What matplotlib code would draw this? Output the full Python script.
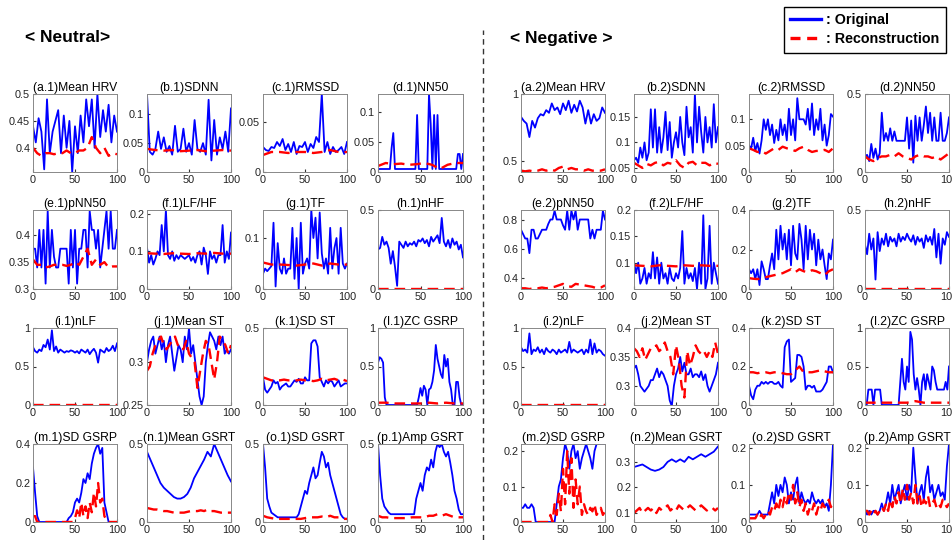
import numpy as np
import matplotlib
matplotlib.use("Agg")
import matplotlib.pyplot as plt
from matplotlib.lines import Line2D
from matplotlib.ticker import FuncFormatter

plt.rcParams['font.family'] = ['Liberation Sans', 'DejaVu Sans']

# ---- data (sample index 0..100) ----
# Neutral
a1_orig = [0.44,0.41,0.455,0.43,0.36,0.49,0.39,0.43,0.45,0.47,0.39,0.46,0.40,0.45,0.355,0.44,0.39,0.46,0.41,0.49,0.44,0.49,0.40,0.50,0.42,0.47,0.43,0.48,0.41,0.46,0.43]
a1_rec = [0.40,0.39,0.385,0.39,0.39,0.388,0.39,0.39,0.395,0.39,0.39,0.395,0.395,0.40,0.42,0.40,0.39,0.40,0.385,0.39,0.388]
b1_orig = [0.135,0.035,0.03,0.04,0.07,0.04,0.06,0.035,0.045,0.03,0.08,0.035,0.04,0.075,0.035,0.05,0.03,0.09,0.04,0.035,0.05,0.03,0.125,0.02,0.09,0.03,0.06,0.04,0.07,0.035,0.11]
b1_rec = [0.04,0.038,0.037,0.038,0.036,0.037,0.038,0.036,0.037,0.038,0.037]
c1_orig = [0.025,0.022,0.021,0.025,0.024,0.03,0.026,0.033,0.022,0.028,0.02,0.03,0.018,0.026,0.025,0.03,0.02,0.028,0.024,0.035,0.03,0.078,0.02,0.03,0.018,0.025,0.02,0.022,0.025,0.018,0.03]
c1_rec = [0.017,0.02,0.02,0.019,0.02,0.02,0.019,0.02,0.022,0.02,0.02]
d1_orig = [0.005,0.005,0.005,0.005,0.005,0.005,0.005,0.005,0.04,0.065,0.005,0.005,0.005,0.005,0.005,0.005,0.005,0.005,0.005,0.005,0.005,0.005,0.005,0.095,0.005,0.005,0.005,0.005,0.005,0.005,0.13,0.08,0.005,0.095,0.005,0.095,0.005,0.005,0.005,0.005,0.005,0.005,0.005,0.005,0.005,0.005,0.005,0.03,0.03,0.005,0.03]
d1_rec = [0.01,0.015,0.013,0.014,0.012,0.013,0.015,0.012,0.005,0.012,0.015,0.015]
e1_orig = [0.375,0.375,0.34,0.41,0.34,0.41,0.31,0.445,0.34,0.41,0.36,0.34,0.34,0.375,0.375,0.375,0.375,0.31,0.41,0.34,0.41,0.31,0.375,0.375,0.41,0.41,0.34,0.445,0.41,0.41,0.375,0.41,0.34,0.375,0.41,0.445,0.375,0.445,0.375,0.375,0.41]
e1_rec = [0.355,0.345,0.345,0.34,0.342,0.345,0.345,0.345,0.343,0.345,0.35,0.345,0.36,0.375,0.345,0.355,0.345,0.35,0.34,0.342,0.342]
f1_orig = [0.11,0.07,0.09,0.065,0.08,0.1,0.09,0.17,0.1,0.21,0.09,0.08,0.1,0.075,0.09,0.08,0.09,0.085,0.08,0.085,0.09,0.075,0.085,0.07,0.09,0.1,0.065,0.11,0.09,0.04,0.1,0.08,0.09,0.07,0.09,0.09,0.17,0.07,0.1,0.08,0.15]
f1_rec = [0.095,0.094,0.093,0.095,0.094,0.093,0.095,0.094,0.096,0.094,0.094]
g1_orig = [0.03,0.04,0.035,0.04,0.045,0.13,0.005,0.09,0.04,0.03,0.06,0.03,0.04,0.04,0.12,0.02,0.1,0.0,0.13,0.03,0.05,0.06,0.04,0.155,0.1,0.14,0.06,0.15,0.07,0.04,0.06,0.03,0.12,0.04,0.08,0.1,0.03,0.12,0.05,0.04,0.05]
g1_rec = [0.052,0.048,0.048,0.047,0.046,0.048,0.05,0.046,0.05,0.048,0.048]
h1_orig = [0.25,0.26,0.33,0.28,0.3,0.26,0.16,0.24,0.14,0.02,0.3,0.28,0.26,0.3,0.27,0.29,0.28,0.3,0.27,0.31,0.3,0.32,0.29,0.31,0.27,0.33,0.3,0.32,0.34,0.29,0.45,0.3,0.27,0.31,0.26,0.32,0.28,0.3,0.25,0.28,0.2]
h1_rec = [0.002,0.002,0.002,0.002,0.002]
i1_orig = [0.75,0.7,0.68,0.72,0.7,0.78,0.75,0.85,0.72,0.97,0.7,0.76,0.68,0.72,0.7,0.68,0.7,0.69,0.71,0.7,0.68,0.7,0.67,0.72,0.7,0.68,0.72,0.66,0.7,0.73,0.68,0.55,0.72,0.7,0.68,0.74,0.7,0.72,0.77,0.7,0.8]
i1_rec = [0.004,0.004,0.004,0.004,0.004]
j1_orig = [0.3,0.315,0.325,0.33,0.31,0.32,0.33,0.315,0.325,0.3,0.32,0.33,0.31,0.29,0.305,0.32,0.315,0.3,0.33,0.315,0.34,0.31,0.32,0.3,0.28,0.26,0.25,0.26,0.3,0.32,0.335,0.33,0.325,0.315,0.33,0.32,0.33,0.31,0.315,0.31,0.315]
j1_rec = [0.29,0.295,0.31,0.32,0.325,0.33,0.32,0.315,0.32,0.325,0.33,0.32,0.32,0.315,0.325,0.31,0.305,0.3,0.27,0.29,0.31,0.325,0.32,0.3,0.28,0.3,0.33,0.325,0.32,0.31,0.32]
k1_orig = [0.18,0.1,0.08,0.1,0.12,0.16,0.14,0.15,0.1,0.12,0.13,0.14,0.12,0.12,0.14,0.16,0.15,0.17,0.14,0.14,0.18,0.16,0.16,0.4,0.42,0.42,0.38,0.18,0.15,0.12,0.16,0.14,0.16,0.15,0.12,0.14,0.16,0.12,0.13,0.14,0.14]
k1_rec = [0.18,0.17,0.16,0.16,0.16,0.165,0.16,0.16,0.16,0.165,0.16,0.16,0.155,0.16,0.17,0.16,0.165,0.17,0.16,0.165,0.155]
l1_orig = [0.55,0.62,0.6,0.55,0.1,0,0,0,0,0,0,0,0,0,0,0,0,0,0,0,0,0,0,0,0.1,0.22,0.12,0.25,0.2,0,0.2,0.22,0.3,0.45,0.78,0.6,0.5,0.4,0.35,0.65,0.5,0.6,0.3,0.2,0,0,0.3,0.3,0.1,0,0]
l1_rec = [0.03,0.03,0.02,0.02,0.02,0.02,0.03,0.02,0.03,0.02,0.02]
m1_orig = [0.28,0.15,0.03,0.0,0.0,0.0,0.0,0.0,0.0,0.0,0.0,0.0,0.0,0.0,0.0,0.0,0.0,0.02,0.03,0.05,0.1,0.12,0.1,0.15,0.22,0.2,0.25,0.22,0.3,0.35,0.38,0.4,0.35,0.38,0.1,0.05,0.0,0.0,0.0,0.0,0.0]
m1_rec = [0.03,0.03,0.0,0.0,0.0,0.0,0.0,0.0,0.0,0.0,0.0,0.0,0.0,0.0,0.0,0.0,0.0,0.0,0.0,0.0,0.02,0.06,0.02,0.1,0.03,0.08,0.02,0.1,0.05,0.15,0.08,0.2,0.1,0.12,0.03,0.01,0.0,0.0,0.0,0.0,0.0]
n1_orig = [0.45,0.4,0.35,0.3,0.25,0.22,0.2,0.18,0.16,0.15,0.15,0.16,0.18,0.22,0.28,0.32,0.36,0.4,0.45,0.42,0.5,0.45,0.4,0.35,0.3,0.26]
n1_rec = [0.09,0.085,0.08,0.08,0.075,0.07,0.07,0.065,0.06,0.06,0.06,0.06,0.065,0.07,0.07,0.07,0.075,0.07,0.08,0.07,0.07,0.065,0.06,0.06,0.06,0.06]
o1_orig = [0.5,0.35,0.15,0.1,0.06,0.05,0.04,0.03,0.03,0.03,0.03,0.03,0.03,0.03,0.03,0.03,0.03,0.05,0.1,0.15,0.2,0.18,0.25,0.3,0.35,0.28,0.3,0.38,0.45,0.42,0.35,0.38,0.3,0.25,0.2,0.15,0.1,0.05,0.03,0.02,0.02]
o1_rec = [0.04,0.03,0.025,0.02,0.02,0.02,0.02,0.02,0.02,0.02,0.025,0.03,0.03,0.03,0.035,0.03,0.04,0.03,0.03,0.02,0.02]
p1_orig = [0.5,0.3,0.15,0.1,0.08,0.06,0.05,0.05,0.05,0.05,0.05,0.05,0.05,0.05,0.05,0.05,0.05,0.05,0.15,0.2,0.25,0.2,0.3,0.35,0.33,0.4,0.35,0.45,0.5,0.48,0.5,0.45,0.42,0.45,0.38,0.3,0.2,0.15,0.08,0.05,0.05]
p1_rec = [0.04,0.03,0.03,0.025,0.025,0.025,0.025,0.025,0.03,0.03,0.03,0.03,0.04,0.04,0.05,0.04,0.05,0.04,0.03,0.03,0.03]

# Negative
a2_orig = [0.83,0.8,0.78,0.68,0.8,0.75,0.82,0.85,0.84,0.88,0.86,0.93,0.88,0.9,0.85,0.93,0.88,0.95,0.86,0.92,0.87,0.95,0.9,0.78,0.88,0.78,0.85,0.8,0.82,0.9,0.86]
a2_rec = [0.43,0.425,0.43,0.425,0.43,0.44,0.43,0.44,0.43,0.45,0.46,0.44,0.45,0.44,0.44,0.43,0.44,0.43,0.43,0.43,0.44]
b2_orig = [0.065,0.07,0.06,0.09,0.07,0.1,0.065,0.08,0.165,0.09,0.165,0.08,0.13,0.08,0.11,0.16,0.085,0.14,0.07,0.1,0.12,0.09,0.15,0.1,0.075,0.17,0.11,0.13,0.08,0.195,0.1,0.17,0.12,0.08,0.15,0.1,0.13,0.09,0.175,0.1,0.13]
b2_rec = [0.06,0.055,0.05,0.058,0.055,0.06,0.062,0.055,0.06,0.058,0.065,0.055,0.05,0.06,0.062,0.055,0.06,0.06,0.055,0.06,0.058]
c2_orig = [0.05,0.045,0.065,0.04,0.055,0.035,0.06,0.1,0.08,0.1,0.07,0.09,0.055,0.08,0.06,0.1,0.07,0.09,0.06,0.12,0.07,0.1,0.06,0.14,0.1,0.1,0.1,0.09,0.12,0.08,0.13,0.07,0.1,0.08,0.12,0.06,0.09,0.05,0.07,0.11,0.105]
c2_rec = [0.045,0.042,0.038,0.04,0.035,0.04,0.045,0.042,0.048,0.045,0.043,0.04,0.045,0.048,0.042,0.038,0.04,0.04,0.042,0.038,0.045]
d2_orig = [0.1,0.11,0.07,0.18,0.09,0.15,0.08,0.12,0.38,0.2,0.25,0.2,0.28,0.2,0.26,0.2,0.2,0.2,0.2,0.2,0.35,0.15,0.33,0.06,0.36,0.2,0.35,0.2,0.3,0.42,0.25,0.38,0.2,0.35,0.2,0.2,0.38,0.2,0.2,0.25,0.35]
d2_rec = [0.1,0.08,0.07,0.09,0.1,0.1,0.11,0.1,0.12,0.1,0.09,0.08,0.1,0.11,0.1,0.1,0.09,0.1,0.08,0.1,0.12]
e2_orig = [0.73,0.7,0.67,0.67,0.57,0.73,0.73,0.67,0.67,0.7,0.73,0.73,0.73,0.77,0.8,0.8,0.86,0.8,0.8,0.8,0.76,0.73,0.86,0.73,0.86,0.8,0.86,0.73,0.8,0.8,0.8,0.8,0.8,0.67,0.73,0.67,0.73,0.73,0.73,0.86,0.8]
e2_rec = [0.33,0.33,0.325,0.33,0.33,0.335,0.33,0.335,0.34,0.35,0.36,0.345,0.34,0.36,0.355,0.35,0.345,0.34,0.33,0.335,0.35]
f2_orig = [0.1,0.08,0.1,0.06,0.07,0.09,0.06,0.08,0.07,0.12,0.07,0.11,0.06,0.1,0.07,0.08,0.06,0.09,0.07,0.065,0.08,0.07,0.09,0.16,0.06,0.09,0.07,0.08,0.065,0.09,0.05,0.1,0.06,0.19,0.05,0.07,0.17,0.06,0.1,0.08,0.06]
f2_rec = [0.095,0.094,0.093,0.095,0.094,0.093,0.095,0.094,0.095,0.094,0.094]
g2_orig = [0.1,0.08,0.1,0.05,0.1,0.02,0.14,0.1,0.05,0.05,0.12,0.18,0.1,0.3,0.15,0.32,0.2,0.28,0.15,0.3,0.12,0.32,0.18,0.15,0.33,0.25,0.1,0.32,0.15,0.3,0.2,0.28,0.12,0.25,0.15,0.2,0.12,0.05,0.18,0.15,0.25]
g2_rec = [0.055,0.052,0.05,0.055,0.06,0.065,0.07,0.075,0.08,0.09,0.1,0.085,0.1,0.09,0.085,0.095,0.09,0.08,0.07,0.09,0.1]
h2_orig = [0.28,0.22,0.35,0.25,0.32,0.06,0.36,0.24,0.32,0.28,0.35,0.27,0.33,0.3,0.32,0.27,0.35,0.3,0.33,0.31,0.35,0.32,0.3,0.34,0.28,0.33,0.3,0.32,0.26,0.34,0.3,0.33,0.28,0.38,0.2,0.35,0.16,0.32,0.28,0.36,0.33]
h2_rec = [0.002,0.002,0.002,0.002,0.002]
i2_orig = [0.75,0.7,0.72,0.68,0.93,0.66,0.72,0.7,0.75,0.68,0.72,0.66,0.74,0.7,0.68,0.72,0.7,0.66,0.72,0.68,0.7,0.72,0.68,0.82,0.68,0.72,0.7,0.68,0.7,0.72,0.66,0.72,0.68,0.85,0.66,0.8,0.68,0.72,0.7,0.66,0.64]
i2_rec = [0.004,0.004,0.004,0.004,0.004]
j2_orig = [0.33,0.335,0.32,0.3,0.295,0.29,0.295,0.3,0.31,0.31,0.32,0.33,0.315,0.325,0.32,0.31,0.3,0.275,0.265,0.3,0.32,0.33,0.35,0.325,0.34,0.32,0.32,0.33,0.315,0.32,0.32,0.315,0.325,0.31,0.32,0.3,0.29,0.3,0.31,0.32,0.34]
j2_rec = [0.365,0.36,0.35,0.365,0.345,0.355,0.365,0.365,0.37,0.36,0.365,0.375,0.36,0.35,0.32,0.37,0.345,0.3,0.28,0.36,0.335,0.35,0.37,0.36,0.355,0.36,0.35,0.36,0.35,0.375,0.355]
k2_orig = [0.1,0.05,0.03,0.08,0.1,0.1,0.12,0.11,0.12,0.11,0.12,0.12,0.11,0.11,0.12,0.1,0.09,0.3,0.33,0.34,0.12,0.13,0.14,0.26,0.26,0.25,0.2,0.08,0.1,0.1,0.09,0.1,0.07,0.07,0.07,0.08,0.1,0.12,0.2,0.2,0.17]
k2_rec = [0.17,0.17,0.165,0.17,0.17,0.165,0.17,0.17,0.165,0.16,0.16,0.18,0.2,0.17,0.17,0.17,0.175,0.18,0.175,0.17,0.17]
l2_orig = [0,0,0.2,0.2,0.2,0,0.2,0.2,0.2,0.2,0,0,0,0,0,0,0,0,0,0,0,0.3,0.6,0.3,0.2,0.5,0.3,0.95,0.85,0.4,0.2,0.35,0.2,0,0.3,0.4,0.2,0.4,0.3,0.2,0.5,0.45,0.3,0.2,0.2,0.2,0.2,0.2,0.3,0.2,0.5]
l2_rec = [0.03,0.03,0.03,0.03,0.03,0.03,0.05,0.03,0.03,0.03,0.03]
m2_orig = [0.04,0.04,0.05,0.04,0.04,0.05,0.04,0.0,0.0,0.0,0.0,0.0,0.0,0.0,0.0,0.0,0.0,0.05,0.1,0.12,0.18,0.22,0.2,0.15,0.2,0.22,0.18,0.2,0.15,0.18,0.2,0.22,0.2,0.18,0.15,0.2,0.22,0.22,0.22,0.22,0.22]
m2_rec = [0.0,0.0,0.0,0.0,0.0,0.0,0.0,0.0,0.0,0.0,0.0,0.0,0.0,0.0,0.02,0.0,0.05,0.02,0.08,0.03,0.15,0.05,0.2,0.08,0.18,0.04,0.12,0.05,0.1,0.02,0.05,0.03,0.02,0.04,0.03,0.05,0.02,0.03,0.04,0.02,0.03]
n2_orig = [0.28,0.285,0.29,0.28,0.27,0.265,0.27,0.28,0.3,0.31,0.3,0.31,0.3,0.32,0.31,0.32,0.33,0.32,0.33,0.34,0.36]
n2_rec = [0.1,0.11,0.12,0.1,0.11,0.12,0.11,0.12,0.1,0.12,0.11,0.12,0.13,0.11,0.12,0.11,0.13,0.12,0.11,0.12,0.13,0.12,0.11,0.12,0.13,0.12,0.11,0.12,0.12,0.11,0.12]
o2_orig = [0.02,0.02,0.02,0.02,0.02,0.03,0.02,0.02,0.02,0.02,0.05,0.08,0.05,0.1,0.07,0.1,0.08,0.12,0.1,0.05,0.08,0.06,0.1,0.12,0.05,0.08,0.06,0.05,0.06,0.05,0.08,0.06,0.05,0.06,0.05,0.06,0.04,0.05,0.03,0.1,0.21]
o2_rec = [0.01,0.01,0.01,0.01,0.02,0.01,0.02,0.01,0.02,0.03,0.02,0.04,0.03,0.05,0.03,0.06,0.04,0.07,0.05,0.08,0.06,0.1,0.05,0.08,0.04,0.06,0.03,0.05,0.02,0.04,0.03,0.05,0.02,0.04,0.03,0.05,0.04,0.05,0.06,0.04,0.05]
p2_orig = [0.03,0.02,0.03,0.02,0.03,0.03,0.02,0.03,0.05,0.03,0.05,0.08,0.05,0.1,0.06,0.08,0.1,0.05,0.08,0.1,0.06,0.1,0.08,0.2,0.12,0.05,0.08,0.1,0.06,0.12,0.15,0.08,0.1,0.06,0.08,0.1,0.07,0.08,0.06,0.15,0.21]
p2_rec = [0.03,0.03,0.02,0.03,0.02,0.03,0.02,0.03,0.04,0.03,0.05,0.03,0.06,0.04,0.07,0.05,0.08,0.05,0.09,0.06,0.1,0.06,0.08,0.05,0.1,0.05,0.07,0.04,0.06,0.05,0.07,0.04,0.05,0.06,0.04,0.05,0.04,0.06,0.05,0.04,0.05]

# (title, original, reconstruction, y range, y ticks), row by row, 8 columns
panels = [
    [("(a.1)Mean HRV", a1_orig, a1_rec, (0.355, 0.5), [0.4, 0.45, 0.5]),
     ("(b.1)SDNN", b1_orig, b1_rec, (0, 0.135), [0, 0.05, 0.1]),
     ("(c.1)RMSSD", c1_orig, c1_rec, (0, 0.078), [0, 0.05]),
     ("(d.1)NN50", d1_orig, d1_rec, (0, 0.13), [0, 0.05, 0.1]),
     ("(a.2)Mean HRV", a2_orig, a2_rec, (0.42, 1.0), [0.5, 1]),
     ("(b.2)SDNN", b2_orig, b2_rec, (0.042, 0.195), [0.05, 0.1, 0.15]),
     ("(c.2)RMSSD", c2_orig, c2_rec, (0, 0.148), [0, 0.05, 0.1]),
     ("(d.2)NN50", d2_orig, d2_rec, (0, 0.5), [0, 0.5])],
    [("(e.1)pNN50", e1_orig, e1_rec, (0.3, 0.447), [0.3, 0.35, 0.4]),
     ("(f.1)LF/HF", f1_orig, f1_rec, (0, 0.21), [0, 0.1, 0.2]),
     ("(g.1)TF", g1_orig, g1_rec, (0, 0.155), [0, 0.1]),
     ("(h.1)nHF", h1_orig, h1_rec, (0, 0.5), [0, 0.5]),
     ("(e.2)pNN50", e2_orig, e2_rec, (0.325, 0.865), [0.4, 0.6, 0.8]),
     ("(f.2)LF/HF", f2_orig, f2_rec, (0.05, 0.2), [0.1, 0.15, 0.2]),
     ("(g.2)TF", g2_orig, g2_rec, (0, 0.4), [0, 0.2, 0.4]),
     ("(h.2)nHF", h2_orig, h2_rec, (0, 0.5), [0, 0.5])],
    [("(i.1)nLF", i1_orig, i1_rec, (0, 1), [0, 0.5, 1]),
     ("(j.1)Mean ST", j1_orig, j1_rec, (0.25, 0.34), [0.25, 0.3]),
     ("(k.1)SD ST", k1_orig, k1_rec, (0, 0.5), [0, 0.5]),
     ("(l.1)ZC GSRP", l1_orig, l1_rec, (0, 1), [0, 0.5, 1]),
     ("(i.2)nLF", i2_orig, i2_rec, (0, 1), [0, 0.5, 1]),
     ("(j.2)Mean ST", j2_orig, j2_rec, (0.267, 0.4), [0.3, 0.35, 0.4]),
     ("(k.2)SD ST", k2_orig, k2_rec, (0, 0.4), [0, 0.2, 0.4]),
     ("(l.2)ZC GSRP", l2_orig, l2_rec, (0, 1), [0, 0.5, 1])],
    [("(m.1)SD GSRP", m1_orig, m1_rec, (0, 0.4), [0, 0.2, 0.4]),
     ("(n.1)Mean GSRT", n1_orig, n1_rec, (0, 0.5), [0, 0.5]),
     ("(o.1)SD GSRT", o1_orig, o1_rec, (0, 0.5), [0, 0.5]),
     ("(p.1)Amp GSRT", p1_orig, p1_rec, (0, 0.5), [0, 0.5]),
     ("(m.2)SD GSRP", m2_orig, m2_rec, (0, 0.22), [0, 0.1, 0.2]),
     ("(n.2)Mean GSRT", n2_orig, n2_rec, (0.065, 0.37), [0.1, 0.2, 0.3]),
     ("(o.2)SD GSRT", o2_orig, o2_rec, (0, 0.21), [0, 0.1, 0.2]),
     ("(p.2)Amp GSRT", p2_orig, p2_rec, (0, 0.21), [0, 0.1, 0.2])],
]

W, H = 952, 540
col_px = [(33, 117), (147, 231), (263, 347), (378, 463),
          (521, 605), (634, 718), (749, 833), (865, 949)]
row_px = [(94, 172), (210, 289), (328, 405), (444, 522)]

fig = plt.figure(figsize=(W / 100, H / 100), dpi=100)
fmt = FuncFormatter(lambda v, p: "%g" % v)

for r, row in enumerate(panels):
    top, bot = row_px[r]
    for c, (title, orig, rec, ylim, yt) in enumerate(row):
        left, right = col_px[c]
        ax = fig.add_axes([left / W, 1 - bot / H, (right - left) / W, (bot - top) / H])
        ax.plot(np.linspace(0, 100, len(orig)), orig, color='#0000ff', lw=1.3)
        ax.plot(np.linspace(0, 100, len(rec)), rec, color='#ff0000', lw=1.7,
                dashes=(4.5, 2.5))
        ax.set_xlim(0, 100)
        ax.set_ylim(*ylim)
        ax.set_xticks([0, 50, 100])
        ax.set_yticks(yt)
        ax.yaxis.set_major_formatter(fmt)
        ax.tick_params(direction='in', length=2.5, labelsize=7.8, pad=2,
                       colors='#333333', labelcolor='#222222')
        for s in ax.spines.values():
            s.set_color('#888888')
            s.set_linewidth(0.7)
        ax.set_title(title, fontsize=8.7, pad=2)

# section headers
fig.text(25 / W, 1 - 38 / H, "< Neutral>", fontsize=12.5, fontweight='bold',
         va='center', ha='left')
fig.text(510 / W, 1 - 38 / H, "< Negative >", fontsize=12.5, fontweight='bold',
         va='center', ha='left')

# dashed separator
fig.add_artist(Line2D([483 / W, 483 / W], [0, 1 - 30 / H], transform=fig.transFigure,
                      color='#333333', lw=1, dashes=(4, 3)))

# legend
handles = [Line2D([], [], color='#0000ff', lw=2.4),
           Line2D([], [], color='#ff0000', lw=2.4, dashes=(3, 2))]
leg = fig.legend(handles, [": Original", ": Reconstruction"], loc='upper right',
                 bbox_to_anchor=(949 / W, 1 - 4 / H), frameon=True, fancybox=False,
                 edgecolor='black', framealpha=1, handlelength=2.2, handletextpad=0.35,
                 labelspacing=0.35, borderpad=0.45, borderaxespad=0.2,
                 prop={'weight': 'bold', 'size': 10.3})
leg.get_frame().set_linewidth(1.0)

fig.savefig("out.png", dpi=100)
